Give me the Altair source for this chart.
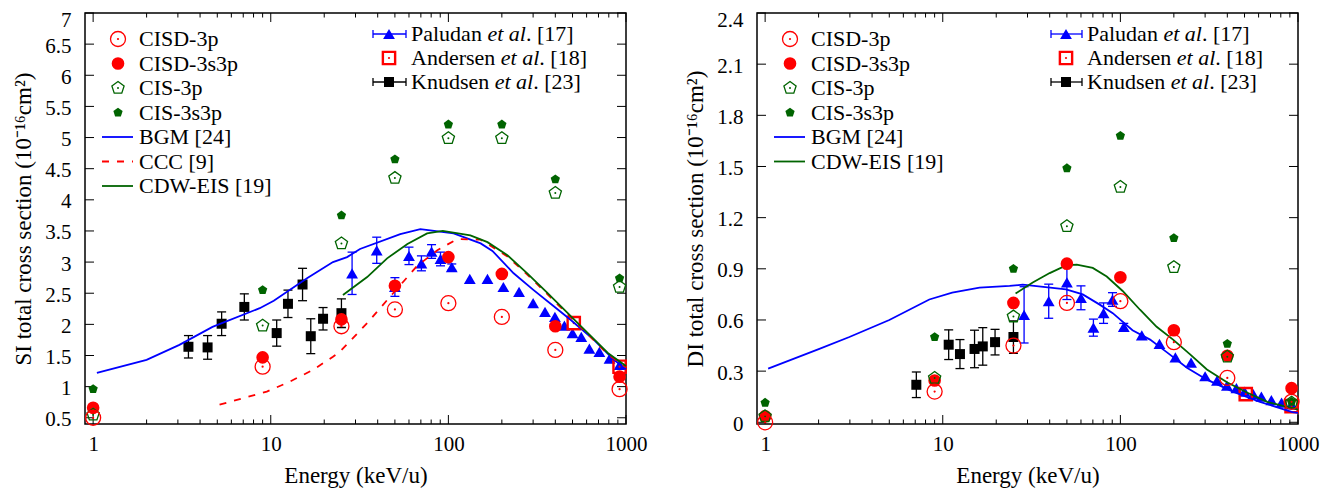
import altair as alt
import pandas as pd

# ---------------- data ----------------
E_theory = [1, 9, 25, 50, 100, 200, 400, 920]

si_cisd_3p   = [0.50, 1.32, 1.97, 2.24, 2.34, 2.12, 1.59, 0.96]
si_cisd_3s3p = [0.66, 1.47, 2.08, 2.62, 3.08, 2.81, 1.97, 1.16]
si_cis_3p    = [0.55, 1.98, 3.30, 4.35, 4.99, 4.99, 4.11, 2.60]
si_cis_3s3p  = [0.96, 2.55, 3.75, 4.65, 5.21, 5.21, 4.33, 2.74]

di_cisd_3p   = [0.00, 0.18, 0.45, 0.70, 0.71, 0.47, 0.26, 0.12]
di_cisd_3s3p = [0.035, 0.245, 0.70, 0.93, 0.85, 0.54, 0.39, 0.20]
di_cis_3p    = [0.035, 0.26, 0.62, 1.15, 1.38, 0.91, 0.385, 0.115]
di_cis_3s3p  = [0.115, 0.50, 0.90, 1.49, 1.68, 1.08, 0.46, 0.12]

E_paludan = [28.7, 39.5, 50, 60, 70.5, 80.4, 90.3, 104.5, 132, 166, 204,
             250, 300, 350, 398, 450, 500, 560, 622, 708, 808, 920]
si_paludan = [2.82, 3.19, 2.60, 3.10, 2.98, 3.17, 3.05, 2.92, 2.73, 2.73, 2.60,
              2.52, 2.34, 2.20, 2.12, 1.98, 1.86, 1.80, 1.61, 1.56, 1.45, 1.35]
si_paludan_err = [0.34, 0.21, 0.15, 0.14, 0.12, 0.11, 0.11, 0.05, 0, 0, 0,
                  0, 0, 0, 0, 0, 0, 0, 0, 0, 0, 0]
di_paludan = [0.63, 0.71, 0.82, 0.73, 0.555, 0.64, 0.72, 0.56, 0.51, 0.46, 0.38,
              0.35, 0.27, 0.245, 0.215, 0.20, 0.18, 0.165, 0.15, 0.13, 0.115, 0.105]
di_paludan_err = [0.165, 0.10, 0.10, 0.07, 0.05, 0.06, 0.04, 0.02, 0, 0, 0,
                  0, 0, 0, 0, 0, 0, 0, 0, 0, 0, 0]

E_knudsen_si = [3.44, 4.41, 5.29, 7.1, 10.8, 12.5, 15.1, 16.8, 19.7, 25]
si_knudsen = [1.64, 1.63, 2.01, 2.28, 1.86, 2.33, 2.64, 1.81, 2.09, 2.18]
si_knudsen_err = [0.18, 0.19, 0.19, 0.21, 0.21, 0.22, 0.26, 0.28, 0.18, 0.23]
E_knudsen_di = [7.1, 10.8, 12.5, 15.1, 16.8, 19.7, 25]
di_knudsen = [0.22, 0.455, 0.40, 0.43, 0.445, 0.47, 0.50]
di_knudsen_err = [0.075, 0.087, 0.085, 0.11, 0.11, 0.075, 0.095]

E_andersen = [508, 920]
si_andersen = [2.02, 1.32]
di_andersen = [0.165, 0.095]

E_bgm_si = [1.05, 2.0, 3.06, 4.7, 8.67, 10.4, 16.0, 22.4, 26.9, 31.8, 53.6, 69.5,
            79, 107, 152, 177, 233, 302, 392, 489, 660, 855, 1000]
si_bgm = [1.22, 1.43, 1.67, 1.96, 2.26, 2.38, 2.74, 3.00, 3.08, 3.21, 3.45, 3.53,
          3.51, 3.46, 3.30, 3.18, 2.82, 2.55, 2.29, 2.07, 1.75, 1.43, 1.28]
E_ccc_si = [5.15, 9.5, 12.8, 17.3, 22.4, 24.5, 34.9, 45.2, 66.8, 86.7, 112, 152,
            215, 278, 362, 470, 610, 790, 1000]
si_ccc = [0.71, 0.92, 1.08, 1.27, 1.48, 1.56, 2.02, 2.39, 2.94, 3.19, 3.37, 3.36,
          3.09, 2.80, 2.48, 2.16, 1.84, 1.52, 1.31]
E_cdw_si = [25.5, 34.9, 45.2, 58.8, 75.9, 93, 133, 166, 215, 278, 362, 470, 610, 790, 1000]
si_cdw = [2.47, 2.76, 3.06, 3.29, 3.46, 3.50, 3.43, 3.32, 3.11, 2.82, 2.50, 2.18, 1.86, 1.54, 1.33]

E_bgm_di = [1.04, 2.02, 2.98, 5.0, 8.4, 11.3, 16.1, 23.8, 28.2, 49.5, 61.4, 76.5,
            90.6, 117, 147, 183, 237, 307, 430, 611, 930, 1000]
di_bgm = [0.315, 0.43, 0.50, 0.60, 0.72, 0.76, 0.79, 0.80, 0.807, 0.78, 0.75, 0.69,
          0.64, 0.54, 0.485, 0.41, 0.32, 0.25, 0.18, 0.12, 0.06, 0.055]
E_cdw_di = [25.7, 32.1, 40, 49.5, 56.8, 69.9, 83.8, 103, 129, 160, 198, 246, 307,
            398, 516, 670, 870, 1000]
di_cdw = [0.755, 0.82, 0.875, 0.92, 0.925, 0.905, 0.855, 0.77, 0.66, 0.56, 0.485,
          0.40, 0.31, 0.235, 0.175, 0.12, 0.09, 0.075]

x_major = [1, 10, 100, 1000]
x_minor = [2, 3, 4, 5, 6, 7, 8, 9, 20, 30, 40, 50, 60, 70, 80, 90,
           200, 300, 400, 500, 600, 700, 800, 900]
si_ticks = [0.5, 1, 1.5, 2, 2.5, 3, 3.5, 4, 4.5, 5, 5.5, 6, 6.5, 7]
di_ticks = [0, 0.3, 0.6, 0.9, 1.2, 1.5, 1.8, 2.1, 2.4]

# ---------------- styling ----------------
W, H = 541, 411
FONT = "Liberation Serif"
FS = 21      # tick labels
FT = 23      # axis titles
FL = 22      # legend text
BLUE, RED, GREEN, BLACK = "#0000ff", "#ff0000", "#006400", "#000000"
PENT = "M0,-1L0.951,-0.309L0.588,0.809L-0.588,0.809L-0.951,-0.309Z"

SYM = {
    "CISD-3p": [dict(shape="circle", filled=False, size=225, color=RED, strokeWidth=1.3),
                dict(shape="circle", filled=True, size=5, color=RED)],
    "CISD-3s3p": [dict(shape="circle", filled=True, size=160, color=RED)],
    "CIS-3p": [dict(shape=PENT, filled=False, size=165, color=GREEN, strokeWidth=1.3),
               dict(shape="circle", filled=True, size=4, color=GREEN)],
    "CIS-3s3p": [dict(shape=PENT, filled=True, size=95, color=GREEN)],
    "Paludan": [dict(shape="triangle-up", filled=True, size=140, color=BLUE)],
    "Andersen": [dict(shape="square", filled=False, size=150, color=RED, strokeWidth=2.4),
                 dict(shape="circle", filled=True, size=5, color=RED)],
    "Knudsen": [dict(shape="square", filled=True, size=100, color=BLACK)],
}
ECOL = {"Paludan": BLUE, "Andersen": RED, "Knudsen": BLACK}
LSTY = {
    "BGM [24]": dict(color=BLUE, strokeWidth=1.8),
    "CCC [9]": dict(color=RED, strokeWidth=1.8, strokeDash=[7, 8]),
    "CDW-EIS [19]": dict(color=GREEN, strokeWidth=1.8),
}

# Times / Liberation Serif advance widths (em) for legend text composition
TW = {"P": .556, "a": .444, "l": .278, "u": .5, "d": .5, "n": .5, " ": .25, "A": .722,
      "e": .444, "r": .333, "s": .389, "K": .722, ".": .25, "[": .333, "]": .333}
TWI = {"e": .444, "t": .278, " ": .25, "a": .5, "l": .278}


def tw(s, table):
    return sum(table.get(c, 0.5) for c in s) * FL


def panel(ytitle, ydom, yvals, theory, exps, lines, leg_theory, leg_exp, legx):
    xs = alt.Scale(type="log", domain=[0.9, 1000], nice=False)
    ys = alt.Scale(domain=ydom, nice=False, zero=False)
    common = dict(ticks=False, tickSize=0, grid=False, domain=False, labelFont=FONT,
                  labelFontSize=FS, labelColor="black", titleFont=FONT, titleFontSize=FT,
                  titleFontWeight="normal", titleColor="black", labelOverlap=False)
    xax = alt.Axis(values=x_major, format="d", labelPadding=9, titlePadding=10,
                   labelFlush=False, **common)
    yax = alt.Axis(values=yvals, format=".1~f", labelPadding=14, titlePadding=9,
                   labelOffset=2, labelFlush=1, labelFlushOffset=6, **common)

    def X(f):
        return alt.X(f"{f}:Q", scale=xs, axis=xax, title="Energy (keV/u)")

    def Y(f):
        return alt.Y(f"{f}:Q", scale=ys, axis=yax, title=ytitle)

    layers = []
    # inward ticks (mirrored)
    for tv, L in ((x_major, 9), (x_minor, 4.5)):
        d = pd.DataFrame({"t": tv})
        layers.append(alt.Chart(d).mark_rule(color="black", strokeWidth=1).encode(
            x=X("t"), y=alt.value(H), y2=alt.value(H - L)))
        layers.append(alt.Chart(d).mark_rule(color="black", strokeWidth=1).encode(
            x=X("t"), y=alt.value(0), y2=alt.value(L)))
    d = pd.DataFrame({"t": yvals})
    layers.append(alt.Chart(d).mark_rule(color="black", strokeWidth=1).encode(
        y=Y("t"), x=alt.value(0), x2=alt.value(9)))
    layers.append(alt.Chart(d).mark_rule(color="black", strokeWidth=1).encode(
        y=Y("t"), x=alt.value(W), x2=alt.value(W - 9)))

    # experiments with error bars
    for name, E, v, err in exps:
        col = ECOL[name]
        df = pd.DataFrame({"E": E, "v": v, "err": err})
        de = df[df["err"] > 0].copy()
        de["lo"] = de["v"] - de["err"]
        de["hi"] = de["v"] + de["err"]
        if len(de):
            layers.append(alt.Chart(de).mark_rule(color=col, strokeWidth=1.3).encode(
                x=X("E"), y=Y("lo"), y2=alt.Y2("hi:Q")))
            for f in ("lo", "hi"):
                layers.append(alt.Chart(de).mark_tick(
                    orient="horizontal", size=9, thickness=1.3, color=col, opacity=1).encode(
                    x=X("E"), y=Y(f)))
        for st in SYM[name]:
            layers.append(alt.Chart(df).mark_point(opacity=1, **st).encode(x=X("E"), y=Y("v")))

    # theory curves
    for name, E, v in lines:
        df = pd.DataFrame({"E": E, "v": v})
        layers.append(alt.Chart(df).mark_line(**LSTY[name]).encode(x=X("E"), y=Y("v")))

    # theory points
    for name, v in theory:
        df = pd.DataFrame({"E": E_theory, "v": v})
        for st in SYM[name]:
            layers.append(alt.Chart(df).mark_point(opacity=1, **st).encode(x=X("E"), y=Y("v")))

    # ---- legend 1 (theory) ----
    one = lambda s: pd.DataFrame({"label": [s]})
    ys0, dy = 26, 24.5
    for i, (kind, label) in enumerate(leg_theory):
        py = ys0 + i * dy
        if kind in SYM:
            for st in SYM[kind]:
                layers.append(alt.Chart(one(label)).mark_point(opacity=1, **st).encode(
                    x=alt.value(33), y=alt.value(py)))
        else:
            layers.append(alt.Chart(one(label)).mark_rule(**LSTY[kind]).encode(
                x=alt.value(17), x2=alt.value(48), y=alt.value(py)))
        layers.append(alt.Chart(one(label)).mark_text(
            align="left", baseline="middle", font=FONT, fontSize=FL, color="black").encode(
            text="label:N", x=alt.value(54), y=alt.value(py)))

    # ---- legend 2 (experiments) ----
    sx, bx1, bx2, tx = legx
    for i, (kind, name, ref) in enumerate(leg_exp):
        py = 21 + i * 24
        col = ECOL[kind]
        if kind != "Andersen":
            layers.append(alt.Chart(one(name)).mark_rule(color=col, strokeWidth=1.3).encode(
                x=alt.value(bx1), x2=alt.value(bx2), y=alt.value(py)))
            for bx in (bx1, bx2):
                layers.append(alt.Chart(one(name)).mark_rule(color=col, strokeWidth=1.3).encode(
                    x=alt.value(bx), y=alt.value(py - 4), y2=alt.value(py + 4)))
        for st in SYM[kind]:
            layers.append(alt.Chart(one(name)).mark_point(opacity=1, **st).encode(
                x=alt.value(sx), y=alt.value(py)))
        parts = [(name + " ", "normal", TW), ("et al", "italic", TWI), (". " + ref, "normal", TW)]
        xx = tx
        for txt, style, table in parts:
            layers.append(alt.Chart(one(txt)).mark_text(
                align="left", baseline="middle", font=FONT, fontSize=FL, color="black",
                fontStyle=style).encode(text="label:N", x=alt.value(xx), y=alt.value(py)))
            xx += tw(txt, table)

    return alt.layer(*layers).properties(width=W, height=H)


left = panel(
    "SI total cross section (10⁻¹⁶cm²)", [0.4, 7], si_ticks,
    [("CISD-3s3p", si_cisd_3s3p), ("CIS-3s3p", si_cis_3s3p), ("CIS-3p", si_cis_3p),
     ("CISD-3p", si_cisd_3p)],
    [("Paludan", E_paludan, si_paludan, si_paludan_err),
     ("Knudsen", E_knudsen_si, si_knudsen, si_knudsen_err),
     ("Andersen", E_andersen, si_andersen, [0, 0])],
    [("BGM [24]", E_bgm_si, si_bgm), ("CCC [9]", E_ccc_si, si_ccc),
     ("CDW-EIS [19]", E_cdw_si, si_cdw)],
    [("CISD-3p", "CISD-3p"), ("CISD-3s3p", "CISD-3s3p"), ("CIS-3p", "CIS-3p"),
     ("CIS-3s3p", "CIS-3s3p"), ("BGM [24]", "BGM [24]"), ("CCC [9]", "CCC [9]"),
     ("CDW-EIS [19]", "CDW-EIS [19]")],
    [("Paludan", "Paludan", "[17]"), ("Andersen", "Andersen", "[18]"),
     ("Knudsen", "Knudsen", "[23]")],
    (304, 288, 321, 326),
)

right = panel(
    "DI total cross section (10⁻¹⁶cm²)", [-0.01, 2.4], di_ticks,
    [("CISD-3s3p", di_cisd_3s3p), ("CIS-3s3p", di_cis_3s3p), ("CIS-3p", di_cis_3p),
     ("CISD-3p", di_cisd_3p)],
    [("Paludan", E_paludan, di_paludan, di_paludan_err),
     ("Knudsen", E_knudsen_di, di_knudsen, di_knudsen_err),
     ("Andersen", E_andersen, di_andersen, [0, 0])],
    [("BGM [24]", E_bgm_di, di_bgm), ("CDW-EIS [19]", E_cdw_di, di_cdw)],
    [("CISD-3p", "CISD-3p"), ("CISD-3s3p", "CISD-3s3p"), ("CIS-3p", "CIS-3p"),
     ("CIS-3s3p", "CIS-3s3p"), ("BGM [24]", "BGM [24]"), ("CDW-EIS [19]", "CDW-EIS [19]")],
    [("Paludan", "Paludan", "[17]"), ("Andersen", "Andersen", "[18]"),
     ("Knudsen", "Knudsen", "[23]")],
    (309, 294, 325, 330),
)

chart = alt.hconcat(left, right, spacing=131, bounds="flush").properties(
    padding={"left": 4, "top": 0, "right": 2, "bottom": 2},
    background="white",
).configure(font=FONT).configure_axis(
    labelFont=FONT, titleFont=FONT, labelFontSize=FS, titleFontSize=FT,
    titleFontWeight="normal", labelColor="black", titleColor="black", tickSize=0,
).configure_view(stroke="black", strokeWidth=1.5)

chart.save("out.html", embed_options={"renderer": "svg", "actions": False})
